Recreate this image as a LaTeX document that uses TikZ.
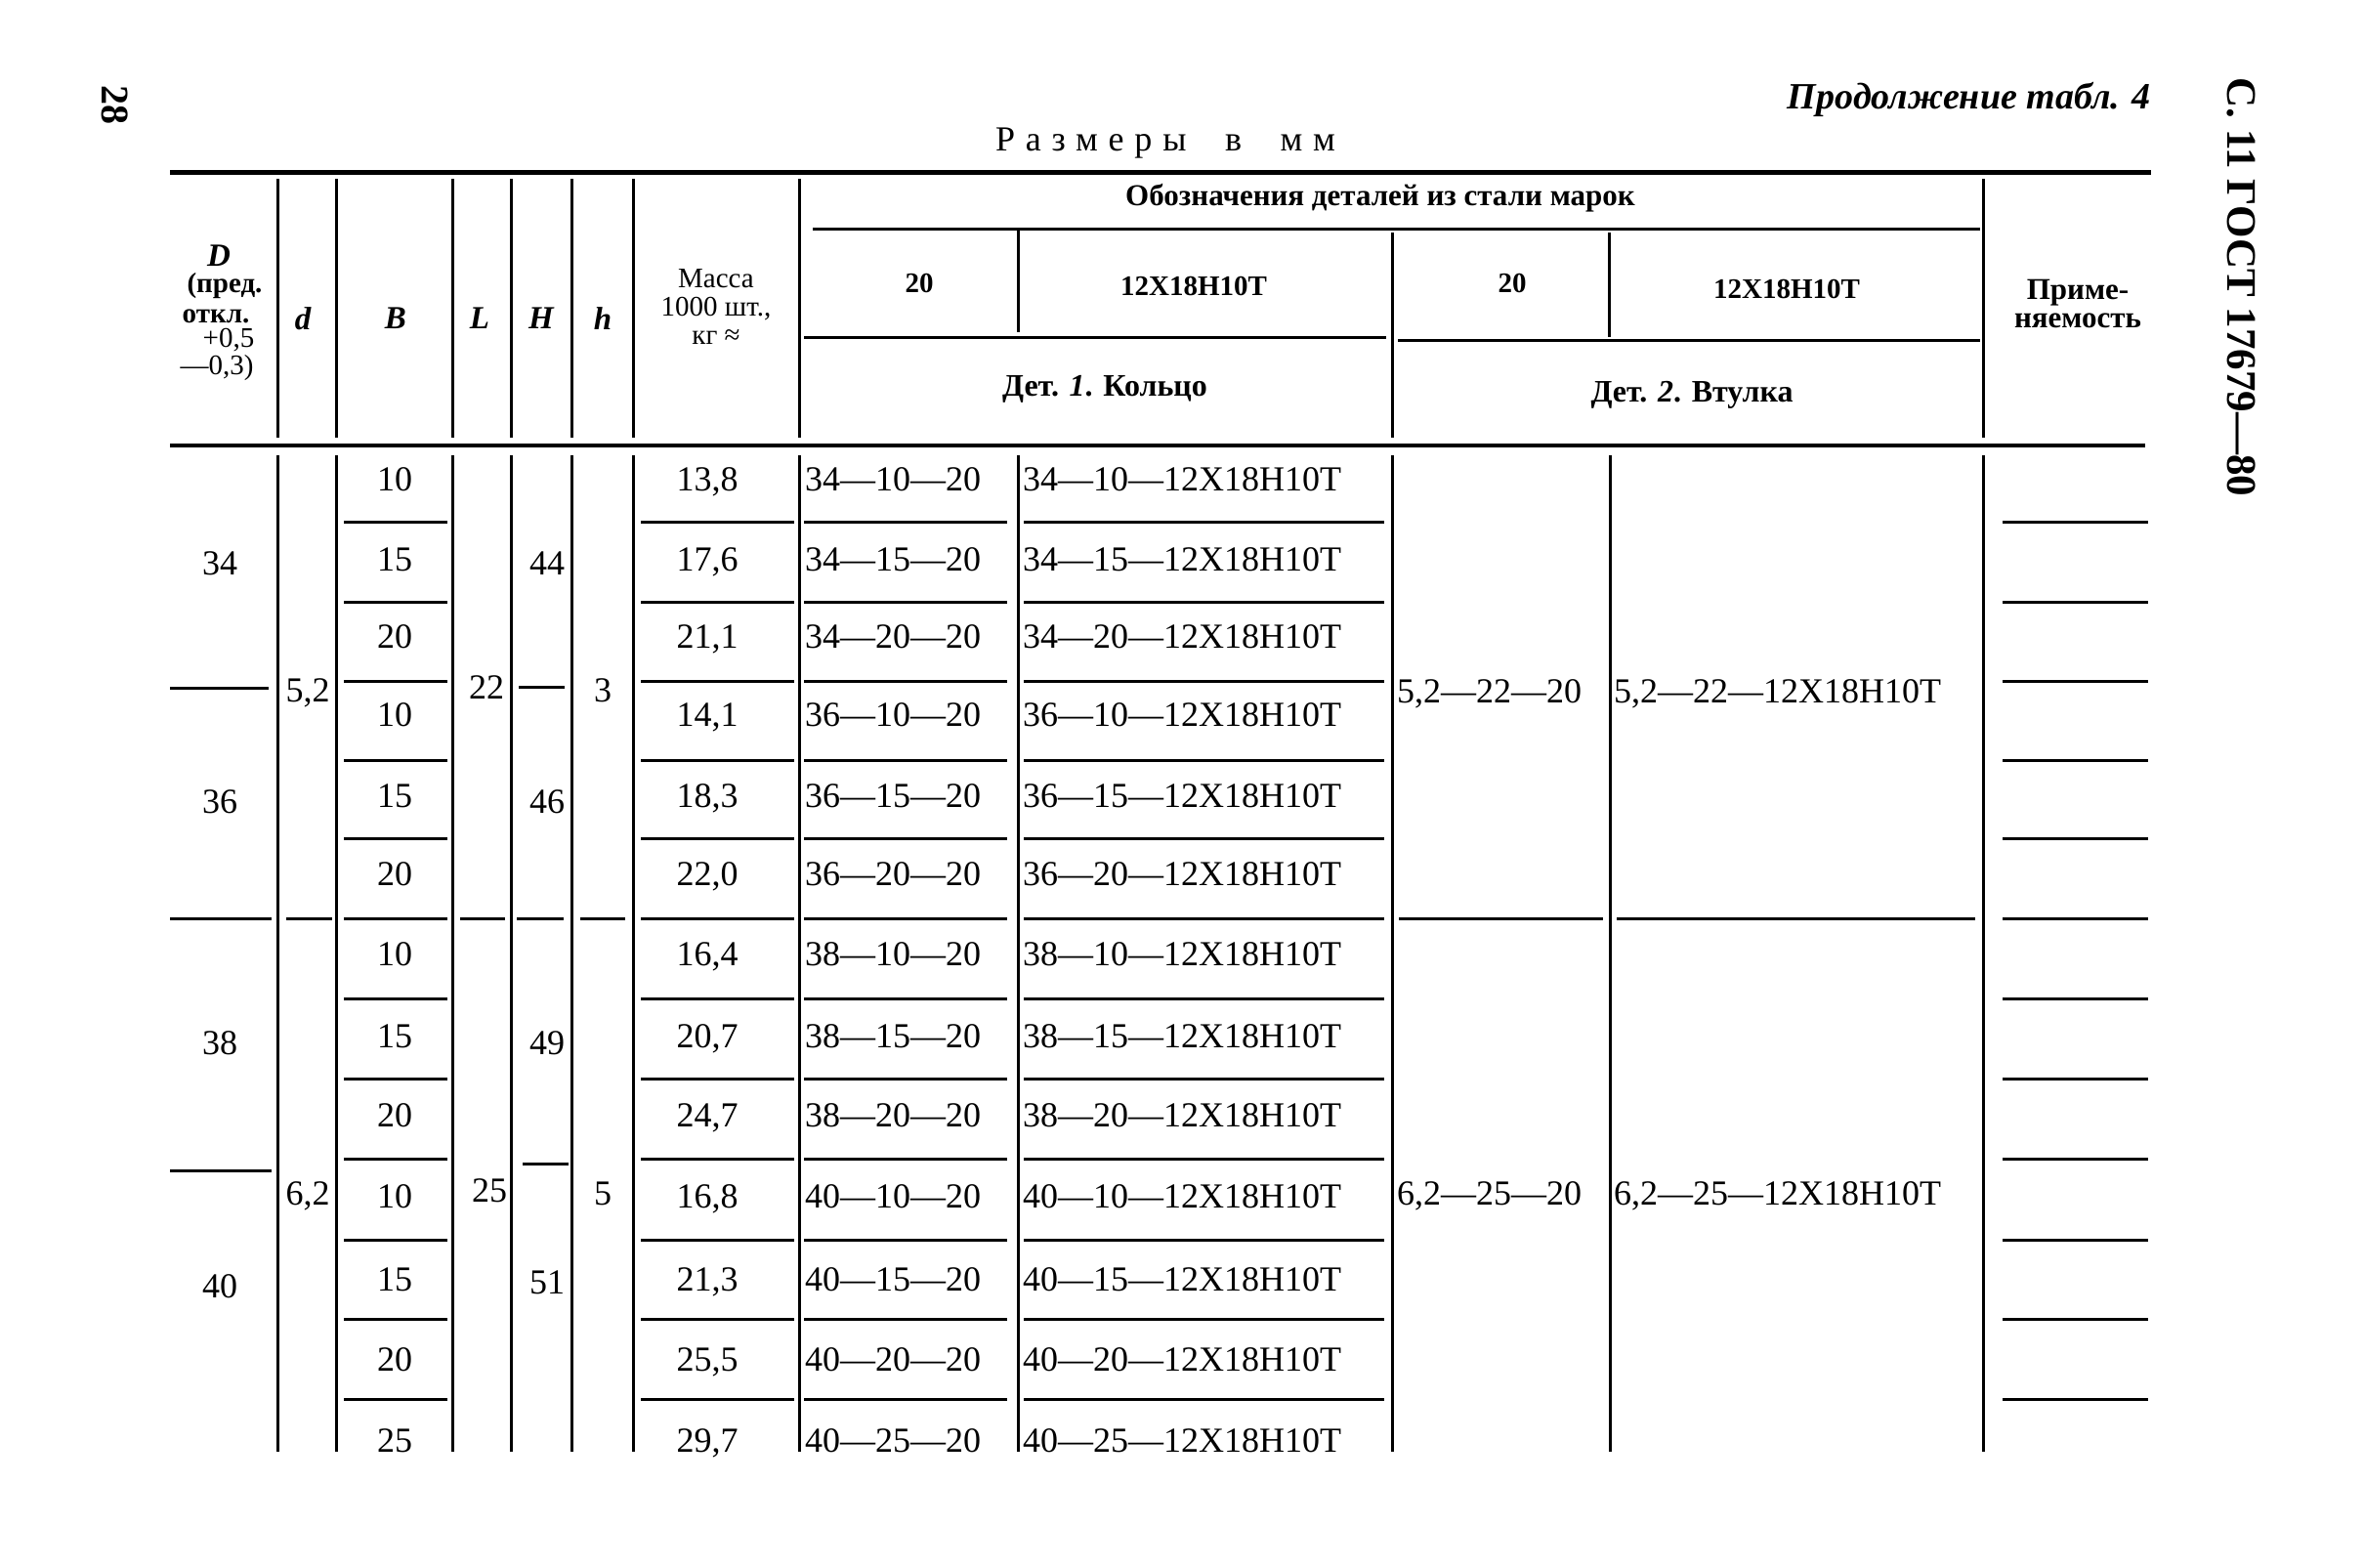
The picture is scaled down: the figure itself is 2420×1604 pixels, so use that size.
\documentclass[tikz,border=0pt]{standalone}
\usepackage{fontspec}
\setmainfont{Liberation Serif}
\begin{document}
\begin{tikzpicture}[x=1pt,y=-1pt,
  rulethick/.style={line width=5pt},
  hl/.style={line width=3pt},
  vl/.style={line width=3pt},
  num/.style={font=\fontsize{36}{40}\selectfont, inner sep=0pt, text height=23pt, text depth=0pt},
  hd/.style={font=\bfseries\fontsize{29}{30}\selectfont, inner sep=0pt},
  hr/.style={font=\fontsize{29}{29}\selectfont, inner sep=0pt, text height=19pt, text depth=5pt},
  hv/.style={font=\bfseries\itshape\fontsize{33}{34}\selectfont, inner sep=0pt},
  dh/.style={font=\fontsize{29}{29}\selectfont, inner sep=0pt, text height=20pt, text depth=5pt}]
\useasboundingbox (0,0) rectangle (2420,1604);
\fill[white] (0,0) rectangle (2420,1604);

% page furniture
\node[rotate=-90, font=\bfseries\fontsize{40}{40}\selectfont, inner sep=0pt] (pg) at (118,107) {28};
\node[rotate=-90, font=\bfseries\fontsize{43}{43}\selectfont, inner sep=0pt] (gost) at (2294,294) {С. 11 ГОСТ 17679—80};
\node[font=\bfseries\itshape\fontsize{38}{40}\selectfont, inner sep=0pt, anchor=east] (cont) at (2202,102) {Продолжение табл. 4};
\node[font=\fontsize{36}{40}\selectfont\addfontfeatures{LetterSpace=30}, inner sep=0pt] (razm) at (1193,147) {Размеры\ \ в\ \ мм};

% rules
\draw[rulethick] (174,176) -- (2202,176);
\draw[line width=4pt] (174,456) -- (2196,456);

% header verticals
\foreach \xx in {284,344,463,523,585,648,818,2030}
  \draw[vl] (\xx,183) -- (\xx,448);
\draw[vl] (1042,234) -- (1042,340);
\draw[vl] (1425,238) -- (1425,448);
\draw[vl] (1647,238) -- (1647,345);
\draw[hl] (832,234) -- (2027,234);
\draw[hl] (823,345) -- (1419,345);
\draw[hl] (1431,348) -- (2027,348);

% header texts
\node[hv, text height=21pt, text depth=0pt] (hD) at (224,262) {D};
\node[dh, font=\bfseries\fontsize{29}{29}\selectfont] (hD1) at (230,292) {(пред.};
\node[dh, font=\bfseries\fontsize{29}{29}\selectfont, text height=14pt, text depth=0pt] (hD2) at (221,323) {откл.};
\node[dh] (hD3) at (234,348) {+0,5};
\node[dh] (hD4) at (222,376) {—0,3)};
\node[hv] (hd) at (310,326) {d};
\node[hv] (hB) at (405,326) {B};
\node[hv] (hL) at (491,326) {L};
\node[hv] (hH) at (554,326) {H};
\node[hv] (hh) at (617,326) {h};
\node[hr] (hm1) at (733,287) {Масса};
\node[hr] (hm2) at (733,316) {1000 шт.,};
\node[hr] (hm3) at (733,345) {кг ≈};
\node[font=\bfseries\fontsize{31}{32}\selectfont, inner sep=0pt] (hob) at (1413,203) {Обозначения деталей из стали марок};
\node[hd] (h20a) at (941,290) {20};
\node[hd] (h12a) at (1222,293) {12Х18Н10Т};
\node[hd] (h20b) at (1548,290) {20};
\node[hd] (h12b) at (1829,296) {12Х18Н10Т};
\node[font=\bfseries\fontsize{32}{32}\selectfont, inner sep=0pt] (det1) at (1131,398) {Дет. \textit{1}. Кольцо};
\node[font=\bfseries\fontsize{32}{32}\selectfont, inner sep=0pt] (det2) at (1732,404) {Дет. \textit{2}. Втулка};
\node[font=\bfseries\fontsize{31}{31}\selectfont, inner sep=0pt] (pr1) at (2127,300) {Приме-};
\node[font=\bfseries\fontsize{31}{31}\selectfont, inner sep=0pt] (pr2) at (2127,328) {няемость};

% body verticals
\foreach \xx in {284,344,463,523,585,648,818,1042,1425,1648,2030}
  \draw[vl] (\xx,466) -- (\xx,1486);

% row lines
\foreach \yy in {534,616,697,778,858,940,1022,1104,1186,1269,1350,1432} {
  \draw[hl] (352,\yy) -- (458,\yy);
  \draw[hl] (656,\yy) -- (813,\yy);
  \draw[hl] (823,\yy) -- (1031,\yy);
  \draw[hl] (1048,\yy) -- (1417,\yy);
  \draw[hl] (2050,\yy) -- (2199,\yy);
}
% group line
\draw[hl] (174,940) -- (278,940);
\draw[hl] (293,940) -- (340,940);
\draw[hl] (471,940) -- (517,940);
\draw[hl] (529,940) -- (577,940);
\draw[hl] (594,940) -- (640,940);
\draw[hl] (1432,940) -- (1641,940);
\draw[hl] (1655,940) -- (2022,940);
% D and H separators
\draw[hl] (174,704) -- (275,704);
\draw[hl] (174,1198) -- (278,1198);
\draw[hl] (531,703) -- (578,703);
\draw[hl] (535,1191) -- (582,1191);

% row data
\foreach \yy/\D/\B/\M [count=\i] in {491/34/10/{13,8}, 573/34/15/{17,6}, 652/34/20/{21,1},
   732/36/10/{14,1}, 815/36/15/{18,3}, 895/36/20/{22,0},
   977/38/10/{16,4}, 1061/38/15/{20,7}, 1142/38/20/{24,7},
   1225/40/10/{16,8}, 1310/40/15/{21,3}, 1392/40/20/{25,5}, 1475/40/25/{29,7}} {
  \node[num] (b\i) at (404,\yy) {\B};
  \node[num] (m\i) at (724,\yy) {\M};
  \node[num,anchor=west] (p\i) at (824,\yy) {\D—\B—20};
  \node[num,anchor=west] (q\i) at (1047,\yy) {\D—\B—12Х18Н10Т};
}

% grouped values
\node[num] (D34) at (225,577) {34};
\node[num] (D36) at (225,821) {36};
\node[num] (D38) at (225,1068) {38};
\node[num] (D40) at (225,1317) {40};
\node[num] (d52) at (315,707) {5,2};
\node[num] (d62) at (315,1222) {6,2};
\node[num] (L22) at (498,704) {22};
\node[num] (L25) at (501,1219) {25};
\node[num] (H44) at (560,577) {44};
\node[num] (H46) at (560,821) {46};
\node[num] (H49) at (560,1068) {49};
\node[num] (H51) at (560,1313) {51};
\node[num] (h3) at (617,707) {3};
\node[num] (h5) at (617,1222) {5};
\node[num,anchor=west] (s1) at (1430,708) {5,2—22—20};
\node[num,anchor=west] (t1) at (1652,708) {5,2—22—12Х18Н10Т};
\node[num,anchor=west] (s2) at (1430,1222) {6,2—25—20};
\node[num,anchor=west] (t2) at (1652,1222) {6,2—25—12Х18Н10Т};
\end{tikzpicture}
\end{document}
